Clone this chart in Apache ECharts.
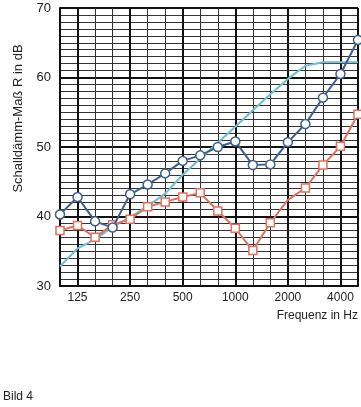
<!DOCTYPE html>
<html>
<head>
<meta charset="utf-8">
<script src="https://cdn.jsdelivr.net/npm/echarts@6/dist/echarts.min.js"></script>
<style>html,body{margin:0;padding:0;background:#fff}#c{width:361px;height:407px}</style>
</head>
<body>
<div id="c"></div>
<script>
// Third-octave band centre frequencies (Hz)
const frequencies = ['100','125','160','200','250','315','400','500','630','800','1000','1250','1600','2000','2500','3150','4000','5000'];
// Labelled octave frequencies
const octaveLabels = ['125','250','500','1000','2000','4000'];
// Measured sound reduction index, blue circles (dB)
const blueValues = [40.3, 42.8, 39.3, 38.4, 43.2, 44.6, 46.2, 48.0, 48.8, 50.0, 50.8, 47.4, 47.5, 50.7, 53.3, 57.1, 60.5, 65.4];
// Measured sound reduction index, red squares (dB)
const redValues = [38.0, 38.7, 37.0, 38.8, 39.6, 41.4, 42.1, 42.8, 43.4, 40.8, 38.3, 35.1, 39.1, 42.4, 44.1, 47.4, 50.1, 54.7];
// Reference curve, cyan (dB)
const cyanValues = [32.8, 35.4, 36.7, 38.5, 39.9, 41.5, 43.3, 46.0, 48.3, 50.6, 52.9, 55.3, 57.6, 59.8, 61.7, 62.2, 62.2, 62.2];
// Points on the red curve drawn without a marker
const redNoMarker = ['2000'];

const yMin = 30, yMax = 70, yStep = 10;
const yTitle = 'Schalldämm-Maß R in dB';
const xTitle = 'Frequenz in Hz';
const caption = 'Bild 4';

const blue = '#3d5e8e', red = '#e2705e', cyan = '#6cc0d0';
const font = 'Liberation Sans, Arial, sans-serif';

const chart = echarts.init(document.getElementById('c'), null, {renderer: 'canvas'});
const isMajor = (i) => i === 0 || i === frequencies.length - 1 || octaveLabels.includes(frequencies[i]);

chart.setOption({
  animation: false,
  grid: {left: 60, right: 3, top: 8, bottom: 121, containLabel: false},
  xAxis: [{
    type: 'category', data: frequencies, boundaryGap: false,
    axisLine: {show: true, lineStyle: {color: '#111', width: 2}},
    axisTick: {show: false},
    axisLabel: {interval: (i, v) => octaveLabels.includes(v), color: '#222', fontSize: 12, fontFamily: font, margin: 6},
    splitLine: {show: true, interval: 0, lineStyle: {color: '#333', width: 1}}
  }, {
    type: 'category', data: frequencies, boundaryGap: false, position: 'bottom',
    axisLine: {show: false}, axisTick: {show: false}, axisLabel: {show: false},
    splitLine: {show: true, interval: (i) => isMajor(i), lineStyle: {color: '#111', width: 2}}
  }],
  yAxis: {
    type: 'value', min: yMin, max: yMax, interval: yStep,
    axisLine: {show: true, lineStyle: {color: '#111', width: 2}},
    axisTick: {show: false},
    axisLabel: {color: '#222', fontSize: 13, fontFamily: font, margin: 9},
    splitLine: {show: true, lineStyle: {color: '#111', width: 2}},
    minorTick: {show: false, splitNumber: 10},
    minorSplitLine: {show: true, lineStyle: {color: '#333', width: 1}}
  },
  series: [{
    type: 'line', data: cyanValues, symbol: 'none', xAxisIndex: 0,
    lineStyle: {color: cyan, width: 2}, z: 3
  }, {
    type: 'line', xAxisIndex: 0,
    data: redValues.map((v, i) => redNoMarker.includes(frequencies[i]) ? {value: v, symbol: 'none'} : v),
    symbol: 'rect', symbolSize: 8, showAllSymbol: true,
    lineStyle: {color: red, width: 2},
    itemStyle: {color: '#fff', borderColor: red, borderWidth: 1.5}, z: 4
  }, {
    type: 'line', data: blueValues, xAxisIndex: 0,
    symbol: 'circle', symbolSize: 9, showAllSymbol: true,
    lineStyle: {color: blue, width: 2},
    itemStyle: {color: '#fff', borderColor: blue, borderWidth: 1.5}, z: 5
  }],
  graphic: [{
    type: 'text', x: 18, y: 118.5, rotation: Math.PI / 2,
    style: {text: yTitle, fill: '#222', font: '13px ' + font, textAlign: 'center', textVerticalAlign: 'middle'}
  }, {
    type: 'text', right: 3, top: 310,
    style: {text: xTitle, fill: '#222', font: '12px ' + font, textAlign: 'right'}
  }, {
    type: 'text', left: 3, top: 391,
    style: {text: caption, fill: '#222', font: '12px ' + font}
  }]
});
</script>
</body>
</html>
